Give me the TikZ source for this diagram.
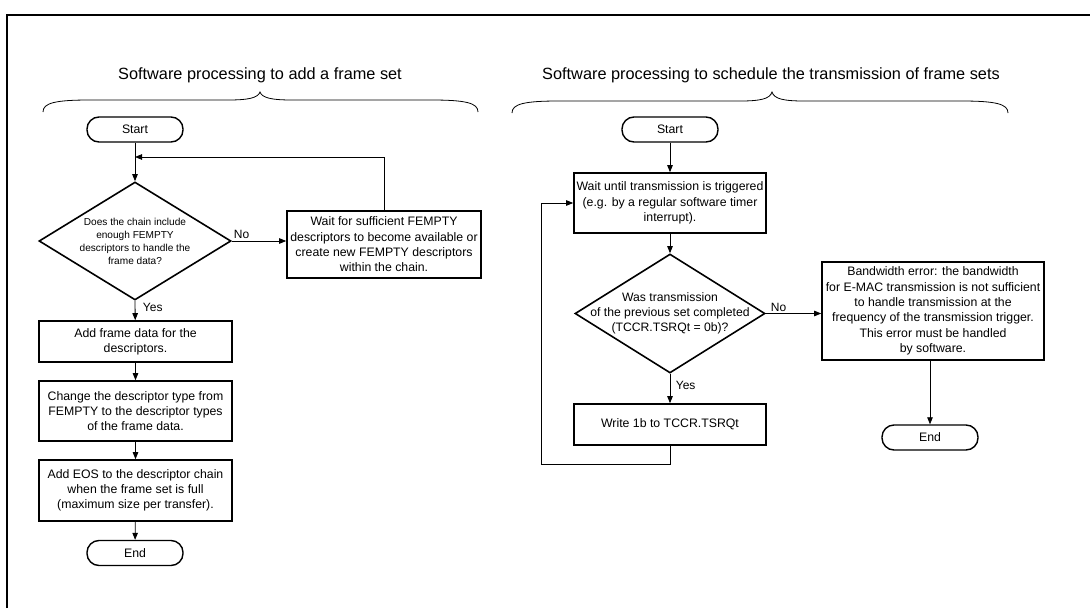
\documentclass[tikz,border=0pt]{standalone}
\usepackage{fontspec}
\setmainfont{Liberation Sans}
\usetikzlibrary{arrows.meta,shapes.geometric}

\begin{document}
\begin{tikzpicture}[
    x=1pt, y=-1pt,
    box/.style={draw, line width=1.6pt, align=center, inner sep=1pt, font=\fontsize{12.3}{15.3}\selectfont},
    term/.style={draw, line width=1.4pt, rounded corners=12pt, minimum width=96pt, minimum height=25pt, font=\fontsize{12.3}{15}\selectfont},
    dec/.style={draw, diamond, line width=1.6pt, inner sep=0pt},
    dtext/.style={align=center, inner sep=0pt},
    lbl/.style={font=\fontsize{12}{14}\selectfont, inner sep=1.5pt},
    >={Triangle[length=7pt, width=5.5pt]},
    line width=0.8pt
]
    \useasboundingbox (0,0) rectangle (1090,608);

    % frame
    \draw[line width=2pt] (7,608) -- (7,15) -- (1090,15);

    % titles and braces
    \node[font=\fontsize{16.3}{19}\selectfont] (title1) at (260,75) {Software processing to add a frame set};
    \node[font=\fontsize{16.3}{19}\selectfont] (title2) at (771,75) {Software processing to schedule the transmission of frame sets};
    \draw (43,112) .. controls (43,103) and (55,100) .. (90,100) -- (228,100)
        .. controls (248,100) and (258,98) .. (260,92)
        .. controls (262,98) and (272,100) .. (292,100) -- (431,100)
        .. controls (466,100) and (478,103) .. (478,112);
    \draw (512,113) .. controls (512,104) and (524,101) .. (559,101) -- (740,101)
        .. controls (760,101) and (770,99) .. (772,92)
        .. controls (774,99) and (784,101) .. (804,101) -- (961,101)
        .. controls (996,101) and (1008,104) .. (1008,113);

    % left flow
    \node[term] (start1) at (135,129.5) {Start};
    \node[dec, minimum width=192pt, minimum height=118pt] (q1) at (135,241) {};
    \node[dtext, font=\fontsize{10.1}{13}\selectfont] (q1t) at (q1) {Does the chain include\\enough FEMPTY\\descriptors to handle the\\frame data?};
    \node[box, minimum width=194pt, minimum height=67pt] (wait1) at (384,244.5) {Wait for sufficient FEMPTY\\descriptors to become available or\\create new FEMPTY descriptors\\within the chain.};
    \node[box, minimum width=193pt, minimum height=41pt] (add1) at (135.5,341.5) {Add frame data for the\\descriptors.};
    \node[box, minimum width=193pt, minimum height=60pt] (chg1) at (135.5,411) {Change the descriptor type from\\FEMPTY to the descriptor types\\of the frame data.};
    \node[box, minimum width=193pt, minimum height=61pt] (eos1) at (135.5,490.5) {Add EOS to the descriptor chain\\when the frame set is full\\(maximum size per transfer).};
    \node[term] (end1) at (135,553) {End};
    \coordinate (j1) at (135,157);

    \draw[->] (start1) -- (q1);
    \draw[->] (q1.east) -- node[lbl, pos=0.18, above] {No} (q1.east -| wait1.west);
    \draw[->] (wait1.north) |- (j1);
    \draw[->] (q1.south) -- node[lbl, pos=0.35, right=6pt] {Yes} (add1);
    \draw[->] (add1) -- (chg1);
    \draw[->] (chg1) -- (eos1);
    \draw[->] (eos1) -- (end1);

    % right flow
    \node[term] (start2) at (670,129.5) {Start};
    \node[box, minimum width=192pt, minimum height=60pt] (wait2) at (670,203) {Wait until transmission is triggered\\(e.g. by a regular software timer\\interrupt).};
    \node[dec, minimum width=190pt, minimum height=119pt] (q2) at (670,313.5) {};
    \node[dtext, font=\fontsize{12.2}{15}\selectfont] (q2t) at (q2) {Was transmission\\of the previous set completed\\(TCCR.TSRQt = 0b)?};
    \node[box, minimum width=192pt, minimum height=41pt] (write2) at (670,424.5) {Write 1b to TCCR.TSRQt};
    \node[box, minimum width=222pt, minimum height=98pt] (bw2) at (933,311) {Bandwidth error: the bandwidth\\for E-MAC transmission is not sufficient\\to handle transmission at the\\frequency of the transmission trigger.\\This error must be handled\\by software.};
    \node[term] (end2) at (930,437.5) {End};
    \coordinate (l2) at (541,464);

    \draw[->] (start2) -- (wait2);
    \draw[->] (wait2) -- (q2);
    \draw[->] (q2.south) -- node[lbl, pos=0.39, right=4pt] {Yes} (write2);
    \draw[->] (q2.east) -- node[lbl, pos=0.23, above] {No} (q2.east -| bw2.west);
    \draw[->] (bw2.south -| end2.north) -- (end2);
    \draw[->] (write2.south) |- (l2) |- (wait2.west);

\end{tikzpicture}
\end{document}
